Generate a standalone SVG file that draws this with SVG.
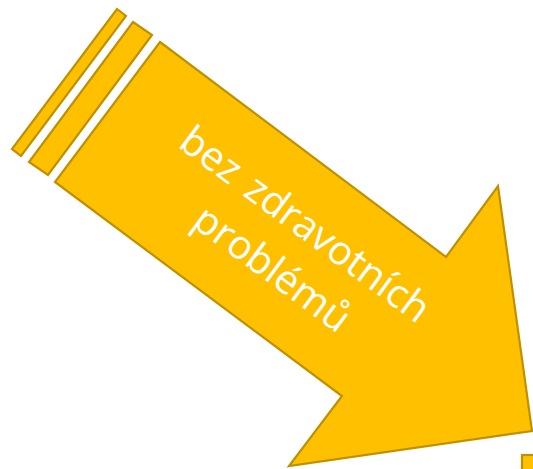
<svg xmlns="http://www.w3.org/2000/svg" width="533" height="469" viewBox="0 0 533 469">
<style>
.shape{fill:#FFC000;stroke:#BF9000;stroke-width:2.2;stroke-linejoin:miter}
.lbl{font-family:"Open Sans","Liberation Sans",Arial,sans-serif;font-size:40px;fill:#FFFFFF;text-anchor:middle;word-spacing:5px}
</style>
<rect width="533" height="469" fill="#FFFFFF"/>
<g id="stripe1"><polygon class="shape" points="117,9 126,16 21,156 12,149"/></g>
<g id="stripe2"><polygon class="shape" points="133,22 152,35 48,175 29,162"/></g>
<g id="arrow">
<polygon class="shape" points="160,42 446,257 498,186 532,431 289,466 342,396 55,182"/>
<g transform="translate(281,257) rotate(36.5)">
<text class="lbl" x="0" y="-27">bez zdravotních</text>
<text class="lbl" x="0" y="28">problémů</text>
</g>
</g>
<g id="corner-piece"><rect class="shape" x="522" y="455" width="30" height="30"/></g>
<g id="connectors"></g>
</svg>
